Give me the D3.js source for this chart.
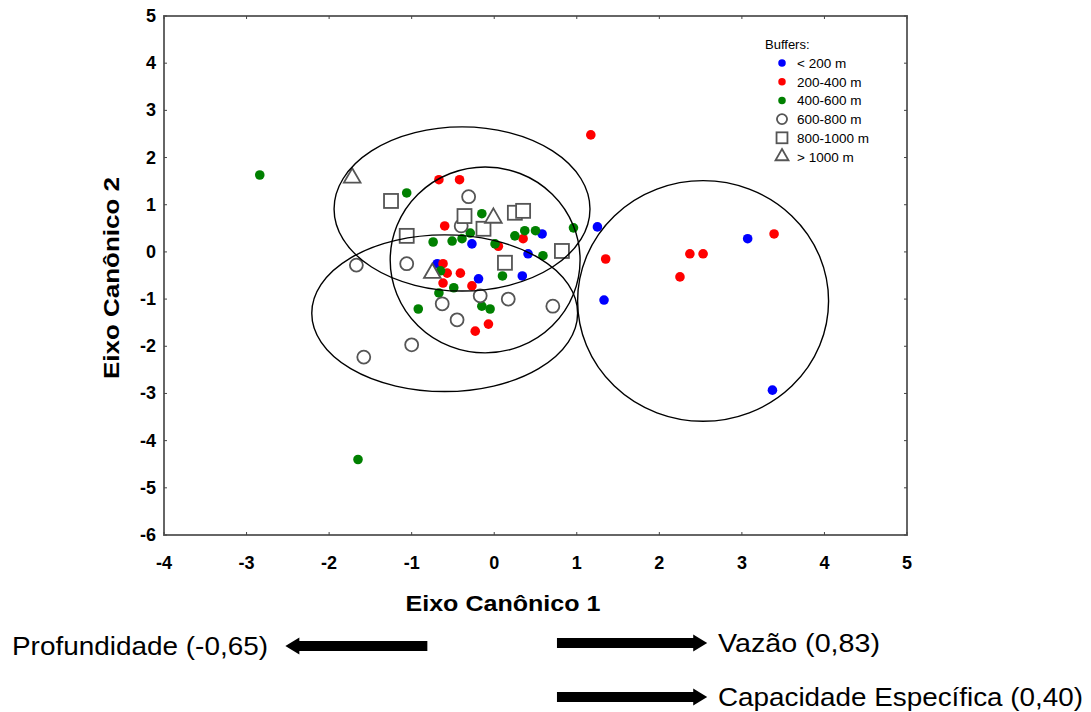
<html>
<head>
<meta charset="utf-8">
<title>Eixos canônicos</title>
<script src="https://d3js.org/d3.v7.min.js"></script>
<style>
  body { margin:0; background:#fff; }
  text { font-family: Arial, "Liberation Sans", sans-serif; }
</style>
</head>
<body>
<div id="chart"></div>
<script>

// scores on the two canonical axes, one list per buffer class
var lt200 = [[1.25,0.53],[3.07,0.28],[1.33,-1.02],[3.37,-2.93],[0.58,0.38],[0.41,-0.04],
             [0.34,-0.51],[-0.19,-0.57],[-0.69,-0.25],[-0.27,0.17]];
var b200_400 = [[1.17,2.48],[3.39,0.38],[2.37,-0.04],[2.53,-0.04],[2.25,-0.53],[1.35,-0.15],
                [-0.67,1.53],[-0.42,1.53],[-0.60,0.55],[-0.62,-0.25],[-0.57,-0.45],[-0.41,-0.45],
                [-0.62,-0.66],[-0.27,-0.72],[-0.23,-1.68],[-0.07,-1.53],[0.35,0.28],[0.05,0.12]];
var b400_600 = [[-2.84,1.63],[-1.65,-4.40],[-1.06,1.25],[0.96,0.51],[-0.74,0.21],[-0.51,0.23],
                [-0.39,0.28],[-0.29,0.40],[-0.15,0.81],[0.25,0.34],[0.37,0.45],[0.50,0.45],
                [0.59,-0.08],[0.10,-0.51],[0.01,0.17],[-0.65,-0.40],[-0.67,-0.87],[-0.49,-0.76],
                [-0.92,-1.21],[-0.15,-1.15],[-0.05,-1.21]];
var b600_800 = [[-0.31,1.17],[-1.67,-0.28],[-1.06,-0.25],[-1.58,-2.23],[-1.00,-1.97],[-0.63,-1.10],
                [-0.45,-1.44],[-0.17,-0.93],[0.17,-1.00],[0.71,-1.15],[-0.40,0.55]];
var b800_1000 = [[-1.25,1.08],[-1.06,0.34],[-0.36,0.76],[-0.13,0.49],[0.25,0.83],[0.35,0.87],
                 [0.82,0.02],[0.13,-0.23]];
var gt1000 = [[-1.72,1.57],[-0.75,-0.45],[-0.01,0.72]];

var legendLabels = ["< 200 m","200-400 m","400-600 m","600-800 m","800-1000 m","> 1000 m"];

// group ellipses: centre x, centre y, radius x, radius y (axis units)
var ellipses = [[-0.39,0.91,1.55,1.74],[-0.11,-0.17,1.15,1.97],[-0.60,-1.30,1.61,1.66],[2.53,-1.04,1.52,2.55]];

var xTicks = [-4,-3,-2,-1,0,1,2,3,4,5];
var yTicks = [5,4,3,2,1,0,-1,-2,-3,-4,-5,-6];

// variable loadings shown as arrows below the plot
var loadingLabels = ["Profundidade (-0,65)","Vazão (0,83)","Capacidade Específica (0,40)"];

var W = 1091, H = 712;
var svg = d3.select("#chart").append("svg").attr("width",W).attr("height",H);

var x = d3.scaleLinear().domain([-4,5]).range([164,907]);
var y = d3.scaleLinear().domain([-6,5]).range([535,16]);

var series = [
  {data:lt200, shape:"dot", color:"#0000ff"},
  {data:b200_400, shape:"dot", color:"#ff0000"},
  {data:b400_600, shape:"dot", color:"#008000"},
  {data:b600_800, shape:"circle"},
  {data:b800_1000, shape:"square"},
  {data:gt1000, shape:"triangle"}
];

function drawMarker(g, s, scale) {
  if (s.shape == "dot") {
    g.append("circle").attr("r",4.8*scale).attr("fill",s.color);
  } else if (s.shape == "circle") {
    g.append("circle").attr("r",6.5*scale).attr("fill","#fff")
     .attr("stroke","#555").attr("stroke-width",1.8);
  } else if (s.shape == "square") {
    var h = 7*scale;
    g.append("rect").attr("x",-h).attr("y",-h).attr("width",2*h).attr("height",2*h)
     .attr("fill","#fff").attr("stroke","#555").attr("stroke-width",1.8);
  } else {
    g.append("path").attr("d",d3.symbol().type(d3.symbolTriangle).size(120*scale*scale)())
     .attr("fill","#fff").attr("stroke","#555").attr("stroke-width",1.8);
  }
}

// points
series.forEach(function(s) {
  svg.append("g").selectAll("g")
     .data(s.data)
     .enter()
     .append("g")
     .attr("transform",function(d){ return "translate("+x(d[0])+","+y(d[1])+")"; })
     .each(function(){ drawMarker(d3.select(this), s, 1); });
});

// ellipses on top of the points
svg.append("g").selectAll("ellipse")
   .data(ellipses)
   .enter()
   .append("ellipse")
   .attr("cx",function(d){ return x(d[0]); })
   .attr("cy",function(d){ return y(d[1]); })
   .attr("rx",function(d){ return x(d[2]) - x(0); })
   .attr("ry",function(d){ return y(0) - y(d[3]); })
   .attr("fill","none")
   .attr("stroke","#000")
   .attr("stroke-width",1.4);

// frame and inner ticks
svg.append("rect")
   .attr("x",x(-4)).attr("y",y(5))
   .attr("width",x(5)-x(-4)).attr("height",y(-6)-y(5))
   .attr("fill","none").attr("stroke","#666").attr("stroke-width",2);

var tk = 3;
svg.append("g").selectAll("line.xb").data(xTicks).enter().append("line")
   .attr("x1",function(d){return x(d);}).attr("x2",function(d){return x(d);})
   .attr("y1",y(-6)).attr("y2",y(-6)-tk).attr("stroke","#444");
svg.append("g").selectAll("line.xt").data(xTicks).enter().append("line")
   .attr("x1",function(d){return x(d);}).attr("x2",function(d){return x(d);})
   .attr("y1",y(5)).attr("y2",y(5)+tk).attr("stroke","#444");
svg.append("g").selectAll("line.yl").data(yTicks).enter().append("line")
   .attr("x1",x(-4)).attr("x2",x(-4)+tk)
   .attr("y1",function(d){return y(d);}).attr("y2",function(d){return y(d);}).attr("stroke","#444");
svg.append("g").selectAll("line.yr").data(yTicks).enter().append("line")
   .attr("x1",x(5)).attr("x2",x(5)-tk)
   .attr("y1",function(d){return y(d);}).attr("y2",function(d){return y(d);}).attr("stroke","#444");

// tick labels
svg.append("g").selectAll("text").data(xTicks).enter().append("text")
   .attr("x",function(d){return x(d);}).attr("y",y(-6)+34)
   .attr("text-anchor","middle").style("font-weight","bold").style("font-size","18px")
   .text(function(d){ return d; });
svg.append("g").selectAll("text").data(yTicks).enter().append("text")
   .attr("x",x(-4)-8).attr("y",function(d){return y(d)+6;})
   .attr("text-anchor","end").style("font-weight","bold").style("font-size","18px")
   .text(function(d){ return d; });

// axis titles
svg.append("text")
   .attr("x",503).attr("y",611)
   .attr("text-anchor","middle").style("font-weight","bold").style("font-size","22px")
   .attr("textLength",195).attr("lengthAdjust","spacingAndGlyphs")
   .text("Eixo Canônico 1");
svg.append("text")
   .attr("transform","translate(119,278) rotate(-90)")
   .attr("text-anchor","middle").style("font-weight","bold").style("font-size","22px")
   .attr("textLength",202).attr("lengthAdjust","spacingAndGlyphs")
   .text("Eixo Canônico 2");

// legend
var leg = svg.append("g").attr("transform","translate(782,0)");
leg.append("text").attr("x",-17).attr("y",49).style("font-size","13px").text("Buffers:");
series.forEach(function(s,i) {
  var row = leg.append("g").attr("transform","translate(0,"+(63+i*18.7)+")");
  drawMarker(row, s, 0.78);
  row.append("text").attr("x",15).attr("y",5).style("font-size","13.5px").text(legendLabels[i]);
});

// loading arrows
function arrow(x0, x1, yc) {
  var dir = x1 > x0 ? 1 : -1;
  var hl = 14, sh = 5, hh = 8.5;
  var xb = x1 - dir*hl;
  return "M"+x0+","+(yc-sh)+"L"+xb+","+(yc-sh)+"L"+xb+","+(yc-hh)+"L"+x1+","+yc+
         "L"+xb+","+(yc+hh)+"L"+xb+","+(yc+sh)+"L"+x0+","+(yc+sh)+"Z";
}
var loadRows = [
  {label:loadingLabels[0], from:-0.81, to:-2.53, yc:646, tx:12, tw:256},
  {label:loadingLabels[1], from:0.76, to:2.58, yc:643, tx:718, tw:162},
  {label:loadingLabels[2], from:0.76, to:2.58, yc:697, tx:718, tw:365}
];
loadRows.forEach(function(r) {
  svg.append("path").attr("d",arrow(x(r.from),x(r.to),r.yc)).attr("fill","#000");
  svg.append("text").attr("x",r.tx).attr("y",r.yc+9)
     .style("font-size","26px")
     .attr("textLength",r.tw).attr("lengthAdjust","spacingAndGlyphs")
     .text(r.label);
});

</script>
</body>
</html>
